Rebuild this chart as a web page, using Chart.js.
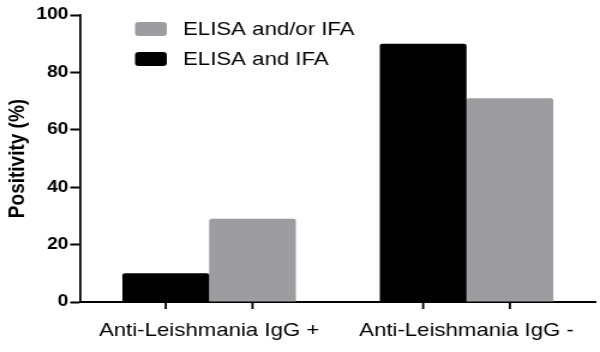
<!DOCTYPE html>
<html>
<head>
<meta charset="utf-8">
<script src="https://cdn.jsdelivr.net/npm/chart.js@4/dist/chart.umd.min.js"></script>
<style>
  html, body { margin: 0; padding: 0; background: #fff; }
  #c { display: block; width: 600px; height: 352px; }
</style>
</head>
<body>
<canvas id="c" width="500" height="352" style="width:600px;height:352px"></canvas>
<script>
const categories = ['Anti-Leishmania IgG +', 'Anti-Leishmania IgG -'];
const seriesNames = ['ELISA and IFA', 'ELISA and/or IFA'];
const elisaAndIfa = [10, 90];
const elisaAndOrIfa = [29, 71];
const yTicks = [0, 20, 40, 60, 80, 100];
const yTitle = 'Positivity (%)';

const FONT = "'Liberation Sans', Arial, sans-serif";

const legendPlugin = {
  id: 'customLegend',
  afterDraw(chart) {
    const ctx = chart.ctx;
    const ds = chart.data.datasets.slice().reverse();
    ctx.save();
    ds.forEach((d, i) => {
      const y = 22 + i * 30;
      ctx.fillStyle = d.backgroundColor;
      ctx.beginPath();
      ctx.roundRect(112.5, y, 26.5, 14, 3);
      ctx.fill();
      ctx.fillStyle = '#000';
      ctx.font = '18.5px ' + FONT;
      ctx.textBaseline = 'middle';
      ctx.textAlign = 'left';
      ctx.fillText(d.label, 152.5, y + 8);
    });
    ctx.restore();
  }
};

const xTickPlugin = {
  id: 'xTicks',
  afterDatasetsDraw(chart) {
    const ctx = chart.ctx;
    const bottom = chart.chartArea.bottom;
    ctx.save();
    ctx.strokeStyle = '#000';
    ctx.lineWidth = 1.8;
    chart.data.datasets.forEach((d, di) => {
      chart.getDatasetMeta(di).data.forEach(el => {
        ctx.beginPath();
        ctx.moveTo(el.x, bottom);
        ctx.lineTo(el.x, bottom + 7);
        ctx.stroke();
      });
    });
    ctx.restore();
  }
};

new Chart(document.getElementById('c'), {
  type: 'bar',
  data: {
    labels: categories,
    datasets: [
      { label: seriesNames[0], data: elisaAndIfa, backgroundColor: '#000000' },
      { label: seriesNames[1], data: elisaAndOrIfa, backgroundColor: '#9d9da1' }
    ]
  },
  options: {
    responsive: false,
    devicePixelRatio: 1,
    animation: false,
    layout: { padding: { top: 15, right: 4, left: 0, bottom: 0 } },
    datasets: {
      bar: { barPercentage: 1, categoryPercentage: 0.674, borderRadius: 2 }
    },
    plugins: {
      legend: { display: false },
      tooltip: { enabled: false }
    },
    scales: {
      x: {
        grid: { display: true, drawOnChartArea: false, drawTicks: false, color: 'rgba(0,0,0,0)' },
        border: { display: true, color: '#000', width: 2 },
        ticks: { color: '#000', font: { family: FONT, size: 18.5 }, padding: 18, maxRotation: 0 },
        afterFit(scale) { scale.height = 50; }
      },
      y: {
        min: 0,
        max: 100,
        afterBuildTicks(scale) { scale.ticks = yTicks.map(v => ({ value: v })); },
        grid: { drawOnChartArea: false, drawTicks: true, tickLength: 8.5, tickWidth: 2, tickColor: '#000' },
        border: { display: true, color: '#000', width: 1.8 },
        ticks: { color: '#000', font: { family: FONT, size: 16, weight: 'bold' }, padding: 1.5 },
        title: { display: true, text: yTitle, color: '#000', font: { family: FONT, size: 19, weight: 'bold' }, padding: { top: 3, bottom: 0 } },
        afterFit(scale) { scale.width = 67; }
      }
    }
  },
  plugins: [legendPlugin, xTickPlugin]
});
</script>
</body>
</html>
